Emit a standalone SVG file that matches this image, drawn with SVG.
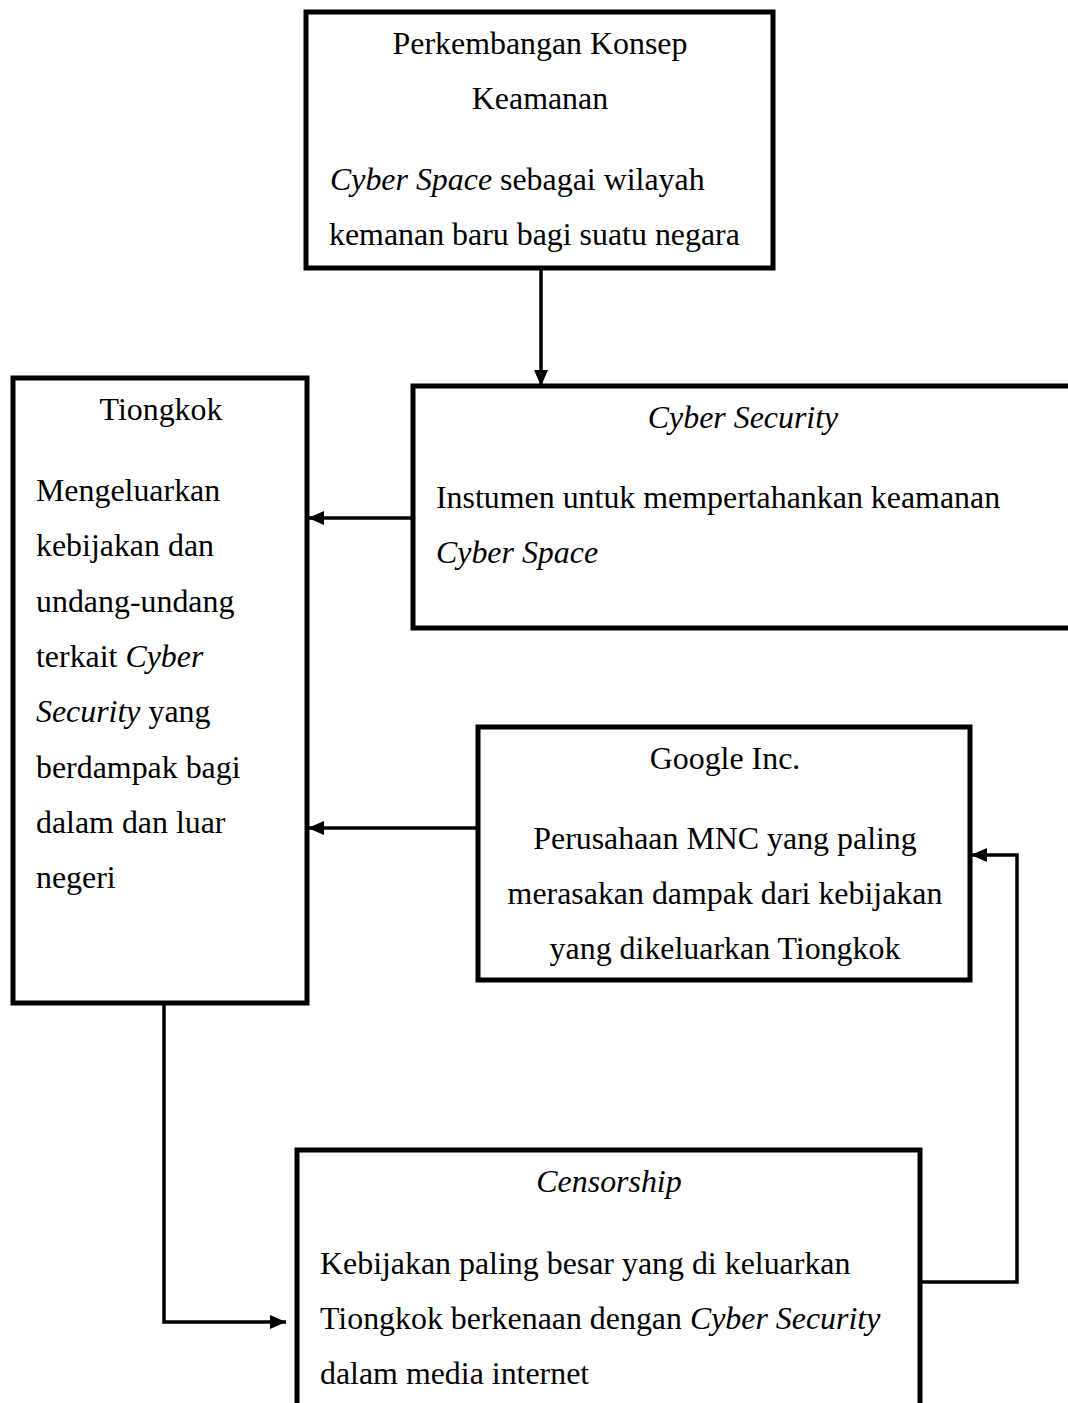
<svg xmlns="http://www.w3.org/2000/svg" width="1068" height="1403" viewBox="0 0 1068 1403">
<style>
.box{fill:#fff;stroke:#000;stroke-width:5;stroke-linejoin:miter}
.t{font-family:"Liberation Serif","Times New Roman",serif;font-size:31.9px;fill:#000}
.c{text-anchor:middle}
.i{font-style:italic}
.ln{fill:none;stroke:#000;stroke-width:3.5}
</style>
<defs>
<marker id="ah" viewBox="0 0 16 14" refX="16" refY="7" markerWidth="16" markerHeight="14" markerUnits="userSpaceOnUse" orient="auto">
<path d="M0,0 L16,7 L0,14 z" fill="#000"/>
</marker>
</defs>
<rect width="1068" height="1403" fill="#fff"/>
<g id="connectors">
<path class="ln" d="M541,268 V386" marker-end="url(#ah)"/>
<path class="ln" d="M413,518 H308" marker-end="url(#ah)"/>
<path class="ln" d="M478,828 H308" marker-end="url(#ah)"/>
<path class="ln" d="M164,1003 V1322 H286" marker-end="url(#ah)"/>
<path class="ln" d="M920,1282 H1017 V855 H971" marker-end="url(#ah)"/>
</g>
<g id="node-perkembangan">
<rect class="box" x="306" y="12" width="467" height="256"/>
<text class="t c" x="540" y="54">Perkembangan Konsep</text>
<text class="t c" x="540" y="109">Keamanan</text>
<text class="t" x="330" y="190"><tspan class="i">Cyber Space</tspan> sebagai wilayah</text>
<text class="t" x="329" y="245">kemanan baru bagi suatu negara</text>
</g>
<g id="node-cybersecurity">
<rect class="box" x="413" y="386" width="670" height="242"/>
<text class="t c i" x="743" y="428">Cyber Security</text>
<text class="t" x="436" y="508">Instumen untuk mempertahankan keamanan</text>
<text class="t i" x="436" y="563">Cyber Space</text>
</g>
<g id="node-tiongkok">
<rect class="box" x="13" y="378" width="294" height="625"/>
<text class="t c" x="161" y="420">Tiongkok</text>
<text class="t" x="36" y="501">Mengeluarkan</text>
<text class="t" x="36" y="556">kebijakan dan</text>
<text class="t" x="36" y="612">undang-undang</text>
<text class="t" x="36" y="667">terkait <tspan class="i">Cyber</tspan></text>
<text class="t" x="36" y="722"><tspan class="i">Security</tspan> yang</text>
<text class="t" x="36" y="778">berdampak bagi</text>
<text class="t" x="36" y="833">dalam dan luar</text>
<text class="t" x="36" y="888">negeri</text>
</g>
<g id="node-google">
<rect class="box" x="478" y="727" width="492" height="253"/>
<text class="t c" x="725" y="769">Google Inc.</text>
<text class="t c" x="725" y="849">Perusahaan MNC yang paling</text>
<text class="t c" x="725" y="904">merasakan dampak dari kebijakan</text>
<text class="t c" x="725" y="959">yang dikeluarkan Tiongkok</text>
</g>
<g id="node-censorship">
<rect class="box" x="297" y="1150" width="623" height="270"/>
<text class="t c i" x="609" y="1192">Censorship</text>
<text class="t" x="320" y="1274">Kebijakan paling besar yang di keluarkan</text>
<text class="t" x="320" y="1329">Tiongkok berkenaan dengan <tspan class="i">Cyber Security</tspan></text>
<text class="t" x="320" y="1384">dalam media internet</text>
</g>
</svg>
